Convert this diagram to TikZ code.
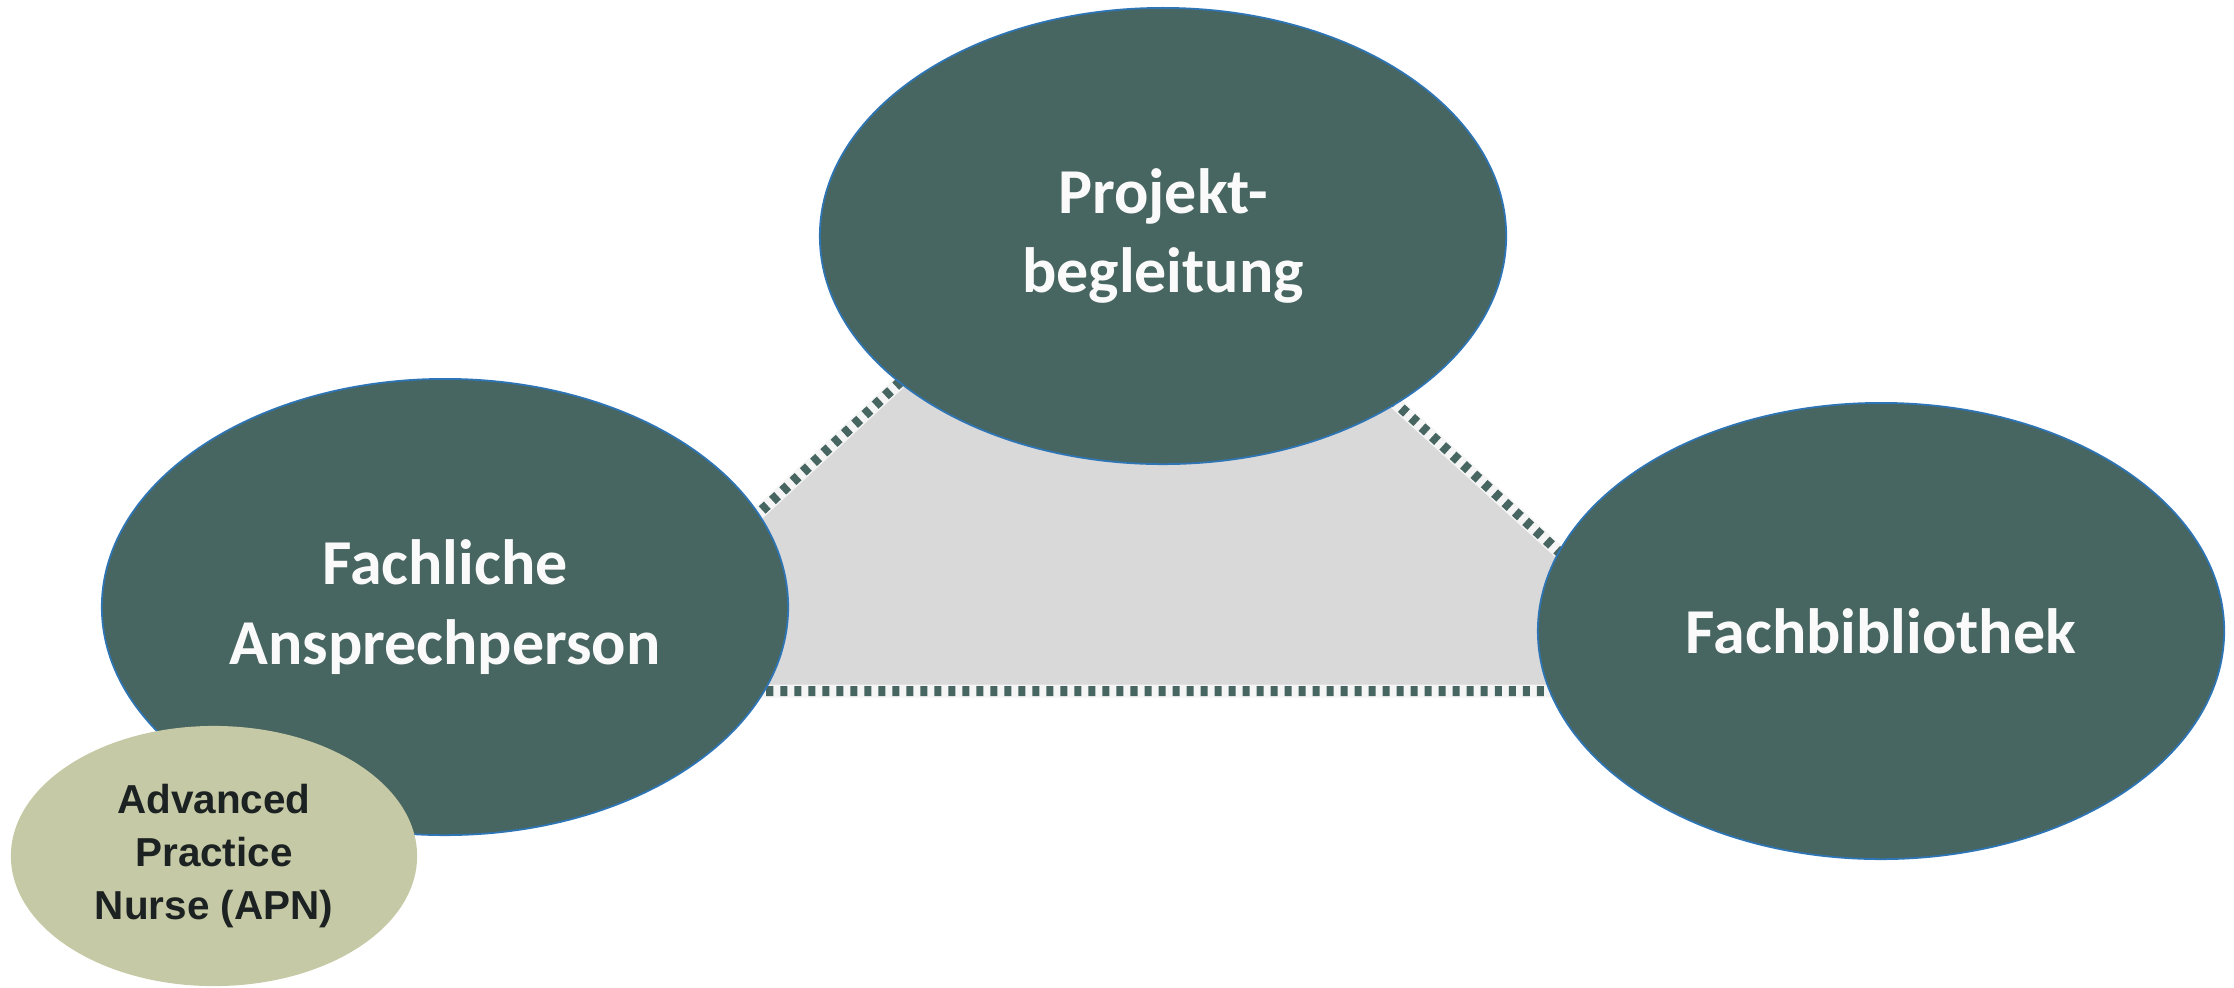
\documentclass[tikz,border=0pt]{standalone}
\usepackage{fontspec}
\setmainfont{Carlito}
\newfontfamily\arialfont{Liberation Sans}
\usetikzlibrary{shapes.geometric}
\definecolor{ovalgreen}{HTML}{486661}
\definecolor{ovalblue}{HTML}{2E75B6}
\definecolor{apngreen}{HTML}{C6C9A5}
\definecolor{apntext}{HTML}{1C2222}
\tikzstyle{oval}=[ellipse,draw=ovalblue,line width=0.5pt,fill=ovalgreen,text=white!96!gray,
  font=\bfseries\fontsize{18.2}{22.5}\selectfont,align=center,
  minimum width=6.86cm,minimum height=4.56cm,inner sep=0pt]
\tikzstyle{apnoval}=[ellipse,fill=apngreen,text=apntext,
  font=\arialfont\bfseries\fontsize{11.5}{15}\selectfont,align=center,
  minimum width=4.06cm,minimum height=2.6cm,inner sep=0pt]
\tikzstyle{frame}=[ovalgreen,line width=0.1cm,dash pattern=on 0.07cm off 0.07cm]

\begin{document}
\begin{tikzpicture}[x=0.01cm,y=-0.01cm]
  \useasboundingbox (0,0) rectangle (2234,987);

  % triangle corners
  \coordinate (left)  at (567,691);
  \coordinate (right) at (1712,691);
  \coordinate (apex)  at (1134,165);

  % triangle fill + dotted frame
  \fill[gray!30]
    (left) -- (apex) -- (right) -- cycle;
  \draw[gray!8,line width=0.13cm]
    (left) -- (apex) -- (right) -- cycle;
  \draw[frame]
    (left) -- (apex) -- (right) -- cycle;

  % ovals
  \node[oval] (projekt) at (1163,236) {Projekt-\\begleitung};
  \node[oval] (fachlich) at (445,607) {Fachliche\\Ansprechperson};
  \node[oval] (bibliothek) at (1881,631) {Fachbibliothek};
  \node[apnoval] (apn) at (214,856) {Advanced\\Practice\\Nurse (APN)};

\end{tikzpicture}
\end{document}
